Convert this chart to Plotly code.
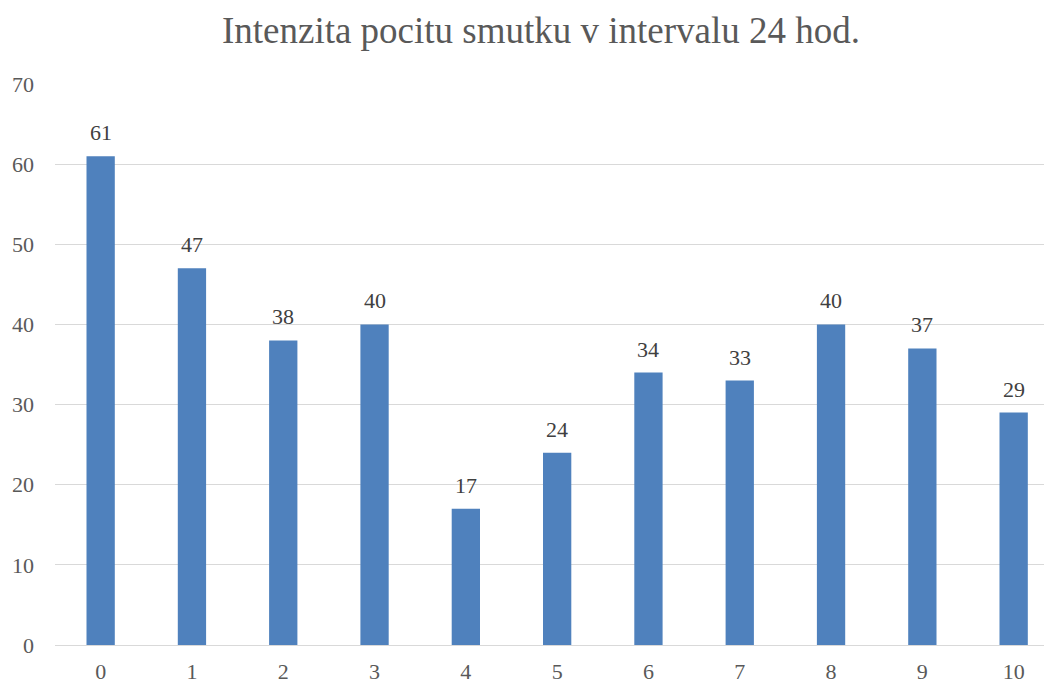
import plotly.graph_objects as go

categories = [0, 1, 2, 3, 4, 5, 6, 7, 8, 9, 10]
values = [61, 47, 38, 40, 17, 24, 34, 33, 40, 37, 29]
y_ticks = [0, 10, 20, 30, 40, 50, 60, 70]
title_text = "Intenzita pocitu smutku v intervalu 24 hod."

FONT = "Liberation Serif"
BAR = "#4F81BD"
OFF = 8  # default page body margin

W, H = 1052 - OFF, 684 - OFF

fig = go.Figure()
fig.add_trace(go.Bar(
    x=categories, y=values, width=0.31,
    marker=dict(color=BAR, line=dict(width=0)),
    hoverinfo="x+y",
))
for c, v in zip(categories, values):
    fig.add_annotation(
        x=c, y=v, text=str(v), showarrow=False, yanchor="bottom",
        yshift=9, font=dict(family=FONT, size=22, color="#404040"),
    )

fig.update_layout(
    width=W, height=H,
    margin=dict(l=55 - OFF, r=0, t=84 - OFF, b=37),
    paper_bgcolor="white", plot_bgcolor="white",
    showlegend=False,
    title=dict(text=title_text, x=(541 - OFF) / W, xanchor="center",
               y=1 - (30 - OFF) / H, yanchor="middle", yref="container",
               font=dict(family=FONT, size=37, color="#595959")),
    xaxis=dict(
        tickmode="array", tickvals=categories, ticktext=[str(c) for c in categories],
        range=[-0.5, 10.42], showgrid=False, zeroline=False, showline=False,
        ticks="", ticklabelstandoff=11,
        tickfont=dict(family=FONT, size=22, color="#595959"),
    ),
    yaxis=dict(
        range=[0, 70], tickmode="array", tickvals=y_ticks,
        showgrid=True, gridcolor="#D9D9D9", gridwidth=1.3,
        zeroline=True, zerolinecolor="#D9D9D9", zerolinewidth=1.3,
        showline=False, ticks="", ticklabelstandoff=20,
        tickfont=dict(family=FONT, size=22, color="#595959"),
    ),
)

fig.write_html("out.html")
